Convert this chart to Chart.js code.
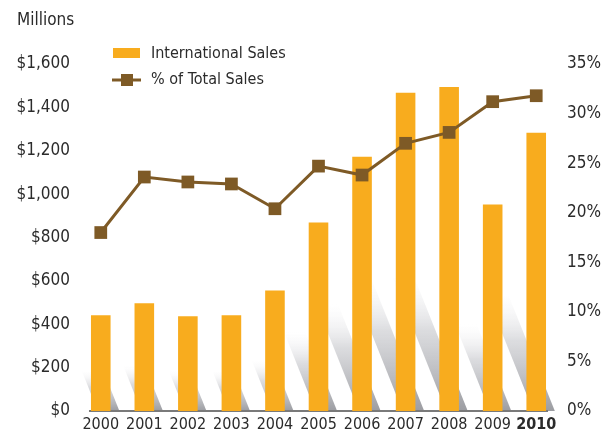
<!DOCTYPE html>
<html>
<head>
<meta charset="utf-8">
<script src="https://cdn.jsdelivr.net/npm/chart.js@4"></script>
<style>
  html, body { margin: 0; padding: 0; background: #fff; }
  #wrap { width: 613px; height: 434px; position: relative; }
</style>
</head>
<body>
<div id="wrap"><canvas id="chart"></canvas></div>
<script>
const years = ['2000', '2001', '2002', '2003', '2004', '2005', '2006', '2007', '2008', '2009', '2010']
const intlSales = [441, 497, 437, 441, 556, 869, 1172, 1467, 1494, 952, 1283]
const pctOfTotal = [18.0, 23.6, 23.1, 22.9, 20.4, 24.7, 23.8, 27.0, 28.1, 31.2, 31.8]
const salesTicks = [0, 200, 400, 600, 800, 1000, 1200, 1400, 1600]
const pctTicks = [0, 5, 10, 15, 20, 25, 30, 35]

const FONT = "'DejaVu Sans Condensed', 'Liberation Sans Narrow', sans-serif"
const TEXT = '#2b2b2b'
const ORANGE = '#F8AC1E'
const BROWN = '#7E5A26'

// diagonal grey streaks behind the bars, plus the baseline
const shadows = {
  id: 'shadows',
  beforeDatasetsDraw(chart) {
    const c = chart.ctx
    const bars = chart.getDatasetMeta(1).data
    c.save()
    bars.forEach(b => {
      const w = b.width
      const h = b.base - b.y
      const H = h * 0.42
      const shift = H * 0.4
      const x0 = b.x - w / 2 + w * 0.35
      const g = c.createLinearGradient(0, b.base, 0, b.base - H)
      g.addColorStop(0, 'rgba(150,151,156,0.95)')
      g.addColorStop(0.6, 'rgba(205,206,210,0.7)')
      g.addColorStop(1, 'rgba(240,240,242,0)')
      c.fillStyle = g
      c.beginPath()
      c.moveTo(x0, b.base)
      c.lineTo(x0 + w * 1.1, b.base)
      c.lineTo(x0 + w * 1.1 - shift, b.base - H)
      c.lineTo(x0 - shift, b.base - H)
      c.closePath()
      c.fill()
    })
    const first = bars[0], last = bars[bars.length - 1]
    c.fillStyle = '#7a7a7a'
    c.fillRect(first.x - first.width / 2 - 2, first.base - 1, last.x + last.width / 2 - first.x + first.width / 2 + 4, 2)
    c.restore()
  }
}

// "Millions" caption and the legend
const labels = {
  id: 'labels',
  afterDraw(chart) {
    const c = chart.ctx
    c.save()
    c.fillStyle = TEXT
    c.textBaseline = 'middle'
    c.font = '17px ' + FONT
    c.fillText('Millions', 17, 21)

    c.fillStyle = ORANGE
    c.fillRect(113, 48, 27, 10)
    c.strokeStyle = BROWN
    c.lineWidth = 3
    c.beginPath()
    c.moveTo(112, 80)
    c.lineTo(141, 80)
    c.stroke()
    c.fillStyle = BROWN
    c.fillRect(121, 74, 12, 12)

    c.fillStyle = TEXT
    c.font = '16px ' + FONT
    c.fillText('International Sales', 151, 54)
    c.fillText('% of Total Sales', 151, 80)
    c.restore()
  }
}

const ctx = document.getElementById('chart')
new Chart(ctx, {
  data: {
    labels: years,
    datasets: [
      {
        type: 'line',
        label: '% of Total Sales',
        data: pctOfTotal,
        yAxisID: 'yPct',
        borderColor: BROWN,
        borderWidth: 3,
        backgroundColor: BROWN,
        pointStyle: 'rect',
        pointRadius: 9,
        pointBorderWidth: 0,
        tension: 0,
        order: 0
      },
      {
        type: 'bar',
        label: 'International Sales',
        data: intlSales,
        yAxisID: 'ySales',
        backgroundColor: ORANGE,
        borderWidth: 0,
        categoryPercentage: 1,
        barPercentage: 0.45,
        order: 1
      }
    ]
  },
  options: {
    responsive: true,
    maintainAspectRatio: false,
    animation: false,
    layout: { padding: { top: 64, left: 0, right: 0, bottom: 0 } },
    plugins: {
      legend: false,
      tooltip: { enabled: false }
    },
    scales: {
      x: {
        offset: true,
        grid: { display: false, drawTicks: false },
        border: { display: false },
        ticks: {
          color: TEXT,
          padding: 4,
          maxRotation: 0,
          autoSkip: false,
          font: (c) => ({
            family: FONT,
            size: 16,
            weight: years[c.index] === '2010' ? 'bold' : 'normal'
          })
        },
        afterFit: (s) => { s.height = 23 }
      },
      ySales: {
        position: 'left',
        min: 0,
        max: 1600,
        grid: { display: false, drawTicks: false },
        border: { display: false },
        afterBuildTicks: (s) => { s.ticks = salesTicks.map(v => ({ value: v })) },
        ticks: {
          color: TEXT,
          padding: 9,
          font: { family: FONT, size: 17 },
          callback: (v) => '$' + v.toLocaleString('en-US')
        },
        afterFit: (s) => { s.width = 79 }
      },
      yPct: {
        position: 'right',
        min: 0,
        max: 35,
        grid: { display: false, drawTicks: false },
        border: { display: false },
        afterBuildTicks: (s) => { s.ticks = pctTicks.map(v => ({ value: v })) },
        ticks: {
          color: TEXT,
          padding: 9,
          font: { family: FONT, size: 17 },
          callback: (v) => v + '%'
        },
        afterFit: (s) => { s.width = 55 }
      }
    }
  },
  plugins: [shadows, labels]
})
</script>
</body>
</html>
